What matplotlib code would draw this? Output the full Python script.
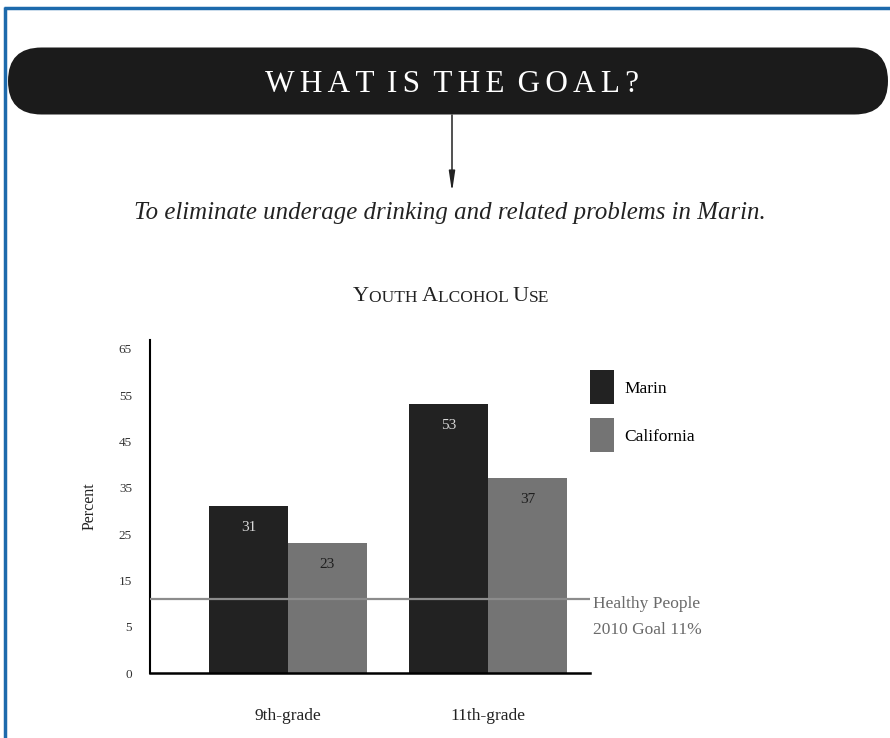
import matplotlib
matplotlib.use("Agg")
import matplotlib.pyplot as plt
from matplotlib.patches import FancyBboxPatch, Patch

plt.rcParams['font.family'] = ['Liberation Serif', 'DejaVu Serif']

# ---- data ----
grades = ["9th-grade", "11th-grade"]
marin = [31, 53]
california = [23, 37]
series_names = ["Marin", "California"]
goal_value = 11
ytick_values = [-5, 5, 15, 25, 35, 45, 55, 65]
ytick_labels = ["0", "5", "15", "25", "35", "45", "55", "65"]

banner_title = "WHAT IS THE GOAL?"
subtitle = "To eliminate underage drinking and related problems in Marin."
goal_lines = ["Healthy People", "2010 Goal 11%"]

marin_color = "#222222"
cal_color = "#747474"

W, H = 890, 738
fig = plt.figure(figsize=(W / 100, H / 100), dpi=100)
fig.patch.set_facecolor("white")

# ---- main chart ----
ax = fig.add_axes([150 / W, 1 - 673 / H, 440 / W, 333 / H])
x = list(range(len(grades)))
bw = 0.395
ax.bar([i - bw / 2 for i in x], [m + 5 for m in marin], bw, bottom=-5,
       color=marin_color, zorder=2)
ax.bar([i + bw / 2 for i in x], [c + 5 for c in california], bw, bottom=-5,
       color=cal_color, zorder=2)
ax.set_xlim(-0.69, 1.51)
ax.set_ylim(-5, 66.9)

ax.axhline(goal_value, color="#8c8c8c", lw=1.6, zorder=3)

for i, v in enumerate(marin):
    ax.annotate(str(v), (x[i] - bw / 2, v), xytext=(0, -15), textcoords="offset points",
                ha="center", va="center", color="#d8d8d8", fontsize=11, zorder=4)
for i, v in enumerate(california):
    ax.annotate(str(v), (x[i] + bw / 2, v), xytext=(0, -15), textcoords="offset points",
                ha="center", va="center", color="#1e1e1e", fontsize=11, zorder=4)

ax.set_yticks(ytick_values)
ax.set_yticklabels(ytick_labels, fontsize=9.5, color="#333333")
ax.set_xticks(x)
ax.set_xticklabels(grades, fontsize=12.5, color="#222222")
ax.tick_params(axis="y", length=0, pad=13)
ax.tick_params(axis="x", length=0, pad=25)
for s in ["top", "right"]:
    ax.spines[s].set_visible(False)
ax.spines["left"].set_linewidth(1.5)
ax.spines["bottom"].set_linewidth(1.8)
ax.set_ylabel("Percent", fontsize=11.5, color="#222222", labelpad=15)

ax.annotate(goal_lines[0], xy=(1.0, goal_value), xycoords=("axes fraction", "data"),
            xytext=(2, -3.5), textcoords="offset points", ha="left", va="center",
            fontsize=12.5, color="#6a6a6a", annotation_clip=False)
ax.annotate(goal_lines[1], xy=(1.0, goal_value), xycoords=("axes fraction", "data"),
            xytext=(2, -22.5), textcoords="offset points", ha="left", va="center",
            fontsize=12.5, color="#6a6a6a", annotation_clip=False)

handles = [Patch(facecolor=marin_color), Patch(facecolor=cal_color)]
ax.legend(handles, series_names, loc="upper left", bbox_to_anchor=(0.984, 0.93),
          frameon=False, handlelength=1.4, handleheight=2.65, fontsize=12.5,
          labelspacing=0.8, handletextpad=0.6, borderaxespad=0.0)

# ---- decorations (pixel coordinates) ----
ov = fig.add_axes([0, 0, 1, 1], zorder=5)
ov.set_xlim(0, W)
ov.set_ylim(H, 0)
ov.axis("off")

ov.plot([4, W], [7.5, 7.5], color="#1d6aac", lw=2.5, solid_capstyle="butt")
ov.plot([5, 5], [6.5, H], color="#1d6aac", lw=2.5, solid_capstyle="butt")

banner = FancyBboxPatch((8 + 33.5, 81), 880 - 67, 0, boxstyle="round,pad=33.5",
                        facecolor="#1b1b1b", edgecolor="none")
ov.add_patch(banner)
gap = "\u200a\u200a"
spaced = gap.join(banner_title).replace(gap + " " + gap, " " + gap)
ov.text(452, 85, spaced, ha="center", va="center", color="white", fontsize=22.5)

ov.annotate("", xy=(452, 192), xytext=(452, 115),
            arrowprops=dict(arrowstyle="-|>,head_length=1.2,head_width=0.18",
                            color="#222222", lw=1.1, shrinkA=0, shrinkB=0))

ov.text(450, 213, subtitle, ha="center", va="center", fontsize=17.9,
        style="italic", color="#222222")

# chart title in small caps
words = ["Youth", "Alcohol", "Use"]
pieces = []
for wi, w in enumerate(words):
    pieces.append((w[0], 16))
    pieces.append((w[1:].upper() + (" " if wi < len(words) - 1 else ""), 12.5))
prev = ov.text(353, 306, pieces[0][0], ha="left", va="bottom", fontsize=pieces[0][1],
               color="#222222")
for txt, fs in pieces[1:]:
    prev = ov.annotate(txt, xy=(1, 0), xycoords=prev, ha="left", va="bottom",
                       fontsize=fs, color="#222222")

fig.savefig("out.png", dpi=100)
